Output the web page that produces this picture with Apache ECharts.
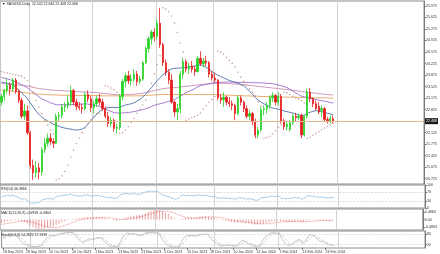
<!DOCTYPE html>
<html><head><meta charset="utf-8">
<script src="https://cdn.jsdelivr.net/npm/echarts@6/dist/echarts.min.js"></script>
<style>html,body{margin:0;padding:0;background:#fff}#c{width:440px;height:254px}</style>
</head><body><div id="c"></div>
<script>
const dates=['18 Sep 2023','19 Sep 2023','20 Sep 2023','21 Sep 2023','22 Sep 2023','25 Sep 2023','26 Sep 2023','27 Sep 2023','28 Sep 2023','29 Sep 2023',
'2 Oct 2023','3 Oct 2023','4 Oct 2023','5 Oct 2023','6 Oct 2023','9 Oct 2023','10 Oct 2023','11 Oct 2023','12 Oct 2023','13 Oct 2023',
'16 Oct 2023','17 Oct 2023','18 Oct 2023','19 Oct 2023','20 Oct 2023','23 Oct 2023','24 Oct 2023','25 Oct 2023','26 Oct 2023','27 Oct 2023',
'30 Oct 2023','31 Oct 2023','1 Nov 2023','2 Nov 2023','3 Nov 2023','6 Nov 2023','7 Nov 2023','8 Nov 2023','9 Nov 2023','10 Nov 2023',
'13 Nov 2023','14 Nov 2023','15 Nov 2023','16 Nov 2023','17 Nov 2023','20 Nov 2023','21 Nov 2023','22 Nov 2023','23 Nov 2023','24 Nov 2023',
'27 Nov 2023','28 Nov 2023','29 Nov 2023','30 Nov 2023','1 Dec 2023','4 Dec 2023','5 Dec 2023','6 Dec 2023','7 Dec 2023','8 Dec 2023',
'11 Dec 2023','12 Dec 2023','13 Dec 2023','14 Dec 2023','15 Dec 2023','18 Dec 2023','19 Dec 2023','20 Dec 2023','21 Dec 2023','22 Dec 2023',
'26 Dec 2023','27 Dec 2023','28 Dec 2023','29 Dec 2023','2 Jan 2024','3 Jan 2024','4 Jan 2024','5 Jan 2024','8 Jan 2024','9 Jan 2024',
'10 Jan 2024','11 Jan 2024','12 Jan 2024','15 Jan 2024','16 Jan 2024','17 Jan 2024','18 Jan 2024','19 Jan 2024','22 Jan 2024','23 Jan 2024',
'24 Jan 2024','25 Jan 2024','26 Jan 2024','29 Jan 2024','30 Jan 2024','31 Jan 2024','1 Feb 2024','2 Feb 2024','5 Feb 2024','6 Feb 2024',
'7 Feb 2024','8 Feb 2024','9 Feb 2024','12 Feb 2024','13 Feb 2024','14 Feb 2024','15 Feb 2024','16 Feb 2024','19 Feb 2024','20 Feb 2024',
'21 Feb 2024','22 Feb 2024','23 Feb 2024','26 Feb 2024','27 Feb 2024','28 Feb 2024'];
const opens=[23.05,23.22,23.40,23.56,23.45,23.72,23.37,23.10,22.62,22.78,
22.12,21.12,20.90,21.05,20.92,21.60,21.80,21.95,21.85,21.80,
22.62,22.65,22.90,22.95,23.05,23.40,23.05,22.92,22.88,22.85,
23.28,23.15,22.88,23.00,23.15,23.05,22.85,22.62,22.40,22.50,
22.25,22.28,23.22,23.68,23.85,23.70,23.75,23.90,23.68,23.75,
24.25,24.68,24.98,25.18,25.05,25.45,24.80,24.25,23.95,23.72,
23.05,22.75,22.85,23.90,24.28,24.05,24.15,24.05,23.98,24.38,
24.22,24.30,24.25,23.90,23.78,23.72,23.18,23.12,23.20,23.05,
23.00,22.95,22.70,23.18,23.05,22.85,22.62,22.70,22.45,22.05,
22.20,22.82,22.85,22.95,23.18,23.25,23.05,23.22,22.48,22.30,
22.22,22.42,22.62,22.58,22.65,22.05,22.62,23.35,23.15,23.00,
22.92,22.80,22.85,22.52,22.48,22.542];
const highs=[23.30,23.45,23.75,23.65,23.78,23.78,23.45,23.18,23.00,22.95,
22.18,21.30,21.25,21.20,21.68,21.95,22.10,22.10,21.95,22.70,
22.75,23.00,23.05,23.25,23.55,23.45,23.15,23.05,23.00,23.35,
23.40,23.25,23.10,23.25,23.30,23.15,22.92,22.75,22.60,22.55,
22.40,23.30,23.75,23.95,24.00,23.90,24.05,24.00,23.85,24.30,
24.75,25.05,25.25,25.30,25.55,25.92,24.85,24.35,24.05,23.90,
23.10,23.00,24.00,24.40,24.35,24.25,24.30,24.15,24.45,24.60,
24.40,24.45,24.30,24.00,23.95,23.75,23.30,23.35,23.25,23.20,
23.10,23.00,23.25,23.25,23.10,22.95,22.80,22.75,22.55,22.30,
22.90,22.95,23.05,23.25,23.35,23.30,23.35,23.30,22.55,22.45,
22.50,22.70,22.72,22.70,22.70,22.65,23.45,23.48,23.20,23.10,
23.05,22.95,22.90,22.60,22.65,22.644];
const lows=[22.95,23.10,23.30,23.25,23.38,23.30,23.02,22.55,22.50,22.05,
21.02,20.68,20.75,20.70,20.82,21.50,21.70,21.75,21.65,21.78,
22.45,22.55,22.75,22.85,22.95,22.95,22.80,22.80,22.70,22.80,
23.05,22.75,22.70,22.90,22.95,22.80,22.55,22.30,22.30,22.15,
22.10,22.20,23.10,23.50,23.60,23.55,23.65,23.55,23.60,23.70,
24.20,24.55,24.80,24.90,24.95,24.70,24.15,23.85,23.60,23.00,
22.60,22.50,22.70,23.75,23.95,23.90,23.95,23.85,23.95,24.15,
24.10,24.15,23.80,23.70,23.65,23.10,23.00,22.90,22.95,22.90,
22.80,22.50,22.65,22.95,22.75,22.55,22.50,22.35,21.95,21.95,
22.15,22.65,22.70,22.85,23.05,22.95,22.95,22.40,22.20,22.18,
22.15,22.35,22.45,22.50,21.95,22.00,22.55,23.05,22.90,22.80,
22.68,22.60,22.45,22.40,22.40,22.408];
const closes=[23.22,23.40,23.56,23.45,23.72,23.37,23.10,22.62,22.78,22.12,
21.12,20.90,21.05,20.92,21.60,21.80,21.95,21.85,21.80,22.62,
22.65,22.90,22.95,23.05,23.40,23.05,22.92,22.88,22.85,23.28,
23.15,22.88,23.00,23.15,23.05,22.85,22.62,22.40,22.50,22.25,
22.28,23.22,23.68,23.85,23.70,23.75,23.90,23.68,23.75,24.25,
24.68,24.98,25.18,25.05,25.45,24.80,24.25,23.95,23.72,23.05,
22.75,22.85,23.90,24.28,24.05,24.15,24.05,23.98,24.38,24.22,
24.30,24.25,23.90,23.78,23.72,23.18,23.12,23.20,23.05,23.00,
22.95,22.70,23.18,23.05,22.85,22.62,22.70,22.45,22.05,22.20,
22.82,22.85,22.95,23.18,23.25,23.05,23.22,22.48,22.30,22.38,
22.42,22.62,22.58,22.62,22.05,22.62,23.35,23.15,23.00,22.85,
22.75,22.85,22.52,22.48,22.55,22.468];
const ma20=[23.66,23.64,23.62,23.60,23.57,23.50,23.42,23.33,23.25,23.16,
23.03,22.90,22.78,22.68,22.59,22.53,22.48,22.43,22.38,22.35,
22.31,22.28,22.26,22.24,22.23,22.21,22.20,22.21,22.23,22.28,
22.38,22.48,22.58,22.68,22.76,22.83,22.87,22.88,22.89,22.89,
22.88,22.90,22.93,22.96,22.98,23.00,23.03,23.08,23.13,23.20,
23.29,23.39,23.49,23.60,23.70,23.80,23.88,23.95,24.01,24.06,
24.08,24.08,24.09,24.10,24.11,24.12,24.13,24.15,24.17,24.19,
24.16,24.11,24.05,23.98,23.92,23.87,23.83,23.79,23.75,23.71,
23.68,23.65,23.62,23.58,23.55,23.47,23.38,23.29,23.19,23.11,
23.05,23.00,22.95,22.91,22.87,22.85,22.83,22.81,22.78,22.76,
22.74,22.72,22.69,22.66,22.64,22.66,22.70,22.74,22.77,22.79,
22.78,22.76,22.74,22.71,22.69,22.67];
const ma50=[23.80,23.78,23.76,23.73,23.70,23.66,23.62,23.58,23.54,23.49,
23.42,23.35,23.28,23.21,23.15,23.11,23.07,23.03,23.00,22.97,
22.97,22.97,22.97,22.97,22.97,22.98,22.98,22.99,22.99,23.00,
22.99,22.97,22.96,22.94,22.92,22.88,22.84,22.80,22.77,22.73,
22.72,22.72,22.72,22.73,22.73,22.75,22.76,22.78,22.80,22.82,
22.85,22.88,22.92,22.95,22.98,23.00,23.02,23.05,23.07,23.09,
23.13,23.18,23.23,23.28,23.34,23.38,23.42,23.46,23.51,23.55,
23.57,23.59,23.61,23.63,23.65,23.65,23.65,23.66,23.66,23.66,
23.66,23.66,23.65,23.65,23.65,23.65,23.65,23.64,23.64,23.64,
23.63,23.63,23.62,23.62,23.61,23.59,23.57,23.55,23.52,23.49,
23.44,23.39,23.33,23.28,23.23,23.21,23.19,23.17,23.15,23.13,
23.11,23.09,23.08,23.06,23.04,23.02];
const ma100=[23.62,23.61,23.60,23.60,23.59,23.58,23.57,23.56,23.55,23.54,
23.52,23.50,23.48,23.46,23.45,23.44,23.43,23.42,23.41,23.41,
23.40,23.40,23.39,23.39,23.38,23.38,23.37,23.37,23.36,23.36,
23.35,23.35,23.34,23.34,23.33,23.32,23.31,23.30,23.29,23.28,
23.27,23.27,23.27,23.28,23.28,23.29,23.29,23.30,23.31,23.32,
23.34,23.36,23.38,23.40,23.42,23.44,23.46,23.47,23.48,23.49,
23.49,23.50,23.51,23.52,23.53,23.54,23.55,23.56,23.57,23.58,
23.59,23.60,23.61,23.61,23.62,23.62,23.62,23.62,23.62,23.61,
23.61,23.60,23.60,23.59,23.58,23.57,23.56,23.55,23.54,23.53,
23.52,23.51,23.50,23.49,23.48,23.47,23.46,23.45,23.44,23.43,
23.42,23.41,23.40,23.39,23.37,23.36,23.35,23.34,23.33,23.32,
23.31,23.30,23.29,23.28,23.27,23.27];
const ma200=[23.42,23.41,23.40,23.39,23.38,23.37,23.36,23.35,23.34,23.33,
23.32,23.31,23.30,23.29,23.29,23.28,23.28,23.27,23.27,23.27,
23.26,23.26,23.26,23.26,23.26,23.25,23.25,23.25,23.25,23.25,
23.25,23.25,23.25,23.25,23.25,23.24,23.24,23.24,23.24,23.24,
23.24,23.24,23.24,23.24,23.24,23.24,23.24,23.24,23.24,23.25,
23.25,23.26,23.26,23.27,23.27,23.28,23.28,23.28,23.28,23.28,
23.28,23.28,23.28,23.28,23.28,23.28,23.28,23.28,23.28,23.28,
23.28,23.28,23.28,23.28,23.28,23.27,23.27,23.27,23.26,23.26,
23.26,23.25,23.25,23.25,23.24,23.24,23.24,23.23,23.23,23.23,
23.22,23.22,23.22,23.22,23.21,23.21,23.21,23.21,23.20,23.20,
23.20,23.20,23.20,23.19,23.19,23.19,23.19,23.19,23.18,23.18,
23.18,23.18,23.18,23.18,23.17,23.17];
const sar=[23.98,23.96,23.94,23.92,23.90,23.88,23.86,23.84,23.78,23.70,
23.55,23.35,23.10,22.90,22.70,22.50,22.35,22.20,22.08,20.68,
20.72,20.81,20.94,21.13,21.37,21.59,21.79,21.96,22.12,22.26,
22.39,22.51,22.62,22.70,22.70,22.79,23.55,23.53,23.48,23.43,
23.35,22.10,22.12,22.19,22.30,22.44,22.56,22.71,22.84,22.96,
23.12,23.35,23.62,23.91,24.19,24.46,25.92,25.88,25.80,25.67,
25.46,25.17,24.85,24.57,22.50,22.54,22.58,22.61,22.65,22.72,
22.83,22.94,23.04,23.13,23.22,24.60,24.57,24.51,24.41,24.32,
24.23,24.12,23.96,23.81,23.68,23.56,23.45,23.36,23.24,23.06,
22.92,21.95,21.97,22.01,22.08,22.18,22.28,22.37,23.35,23.33,
23.28,23.23,23.18,23.14,23.10,23.03,21.95,21.98,22.04,22.10,
22.15,22.21,22.26,22.31,22.36,22.40];
const rsi=[48,52,55,53,57,50,45,38,41,32,
22,20,23,22,35,38,41,40,39,51,
51,55,55,57,61,55,53,52,52,58,
56,52,53,55,53,50,47,44,46,42,
43,56,61,63,61,61,63,59,60,66,
70,72,74,71,74,62,55,51,49,42,
39,41,53,57,54,55,54,53,57,55,
56,55,51,50,49,43,43,44,42,42,
41,38,45,44,41,39,40,37,33,36,
45,46,47,51,52,49,52,42,40,41,
42,45,44,45,38,46,55,52,50,48,
47,48,45,44,45,46.39];
const macdMain=[-0.22,-0.17,-0.11,-0.08,-0.03,-0.03,-0.05,-0.12,-0.15,-0.23,
-0.37,-0.49,-0.56,-0.62,-0.60,-0.56,-0.50,-0.47,-0.44,-0.34,
-0.26,-0.18,-0.11,-0.05,0.02,0.05,0.07,0.08,0.09,0.13,
0.14,0.13,0.13,0.14,0.14,0.12,0.08,0.03,0.00,-0.05,
-0.08,-0.03,0.05,0.12,0.16,0.20,0.24,0.25,0.26,0.32,
0.40,0.48,0.55,0.58,0.62,0.59,0.52,0.43,0.34,0.21,
0.08,0.00,0.02,0.07,0.09,0.12,0.13,0.13,0.16,0.17,
0.19,0.19,0.17,0.14,0.11,0.04,-0.02,-0.05,-0.09,-0.12,
-0.15,-0.19,-0.18,-0.18,-0.19,-0.22,-0.23,-0.26,-0.31,-0.33,
-0.29,-0.26,-0.22,-0.17,-0.12,-0.10,-0.06,-0.09,-0.13,-0.15,
-0.16,-0.15,-0.14,-0.13,-0.17,-0.16,-0.08,-0.04,-0.02,-0.02,
-0.03,-0.03,-0.06,-0.08,-0.09,-0.0958];
const macdSignal=[-0.30,-0.28,-0.25,-0.22,-0.18,-0.15,-0.12,-0.10,-0.10,-0.11,
-0.14,-0.19,-0.25,-0.31,-0.37,-0.42,-0.47,-0.50,-0.52,-0.51,
-0.48,-0.44,-0.38,-0.31,-0.24,-0.17,-0.10,-0.05,0.00,0.04,
0.07,0.09,0.11,0.12,0.13,0.13,0.12,0.11,0.09,0.06,
0.03,0.01,0.00,0.01,0.03,0.05,0.09,0.13,0.16,0.20,
0.25,0.30,0.36,0.42,0.47,0.51,0.53,0.53,0.51,0.47,
0.41,0.34,0.26,0.20,0.14,0.10,0.09,0.09,0.10,0.12,
0.14,0.15,0.16,0.16,0.16,0.15,0.12,0.09,0.05,0.01,
-0.03,-0.07,-0.11,-0.14,-0.16,-0.18,-0.19,-0.21,-0.23,-0.25,
-0.27,-0.27,-0.27,-0.26,-0.24,-0.21,-0.18,-0.16,-0.14,-0.13,
-0.13,-0.13,-0.13,-0.14,-0.14,-0.15,-0.14,-0.13,-0.11,-0.09,
-0.08,-0.07,-0.06,-0.06,-0.07,-0.0804];
const stochK=[60,70,78,75,80,65,45,25,20,12,
8,6,10,12,35,55,72,75,72,80,
85,88,90,92,90,75,55,40,30,45,
55,50,55,62,60,45,25,12,10,8,
10,45,75,88,85,80,82,75,72,85,
90,92,90,88,90,60,35,18,10,6,
5,8,40,65,72,75,72,70,78,80,
82,80,60,40,30,15,12,15,18,15,
12,10,30,45,40,25,20,12,8,12,
40,65,78,88,90,85,85,50,25,15,
18,35,45,50,25,40,70,80,70,55,
40,38,28,20,16,14.28];
const stochD=[55,62,69,74,78,73,62,45,30,19,
13,9,8,9,19,34,54,67,73,76,
79,84,88,90,91,86,73,57,42,38,
43,50,53,56,59,56,43,27,16,10,
9,21,43,69,83,84,82,79,76,77,
82,89,91,90,89,79,62,38,21,11,
7,6,18,38,59,71,73,72,73,76,
80,81,74,60,43,28,19,14,15,16,
15,12,17,28,38,37,28,19,13,11,
20,39,61,77,85,88,87,73,53,30,
19,23,33,43,40,38,45,63,73,68,
55,44,35,29,21,17.33];
const priceTicks=[20.725,21.075,21.425,21.775,22.125,22.825,23.175,23.525,23.875,24.225,24.575,24.925,25.275,25.625,25.975];
const rsiTicks=[0,30,70,100];
const macdTicks=[-0.4863,0,0.4863];
const stochTicks=[0,20,80,100];
const monthStarts=[10,32,54,74,96,117];
const lastPrice=22.468;
const headerText='\u25BC XAGUSD,Daily  22.542 22.644 22.408 22.468';
const rsiText='RSI(14) 46.3866';
const macdText='MACD(12,26,9) -0.0958 -0.0804';
const stochText='Stoch(5,3,3) 14.2822 17.3319';

const FONT='Liberation Sans';
const FUTURE=31;
const cats=dates.concat(new Array(FUTURE).fill(''));
const candles=opens.map((o,i)=>[o,closes[i],lows[i],highs[i]]);
const chart=echarts.init(document.getElementById('c'),null,{renderer:'canvas'});
const gridBase={left:0,right:15,show:true,borderColor:'#8c8c8c',borderWidth:1,backgroundColor:'#fff'};
const labelEvery=(i)=>i%8===0&&i<=112;
function xa(idx,showLabels){
  return {type:'category',gridIndex:idx,data:cats,boundaryGap:true,
    axisLine:{show:false},
    axisTick:{show:showLabels,length:2,alignWithLabel:true,interval:labelEvery,lineStyle:{color:'#777'}},
    axisLabel:{show:showLabels,interval:labelEvery,align:'left',fontSize:3.5,margin:2,color:'#333',fontFamily:FONT},
    splitLine:{show:true,interval:(i)=>monthStarts.indexOf(i)>=0,lineStyle:{color:'#d2d2d2',width:1}}};
}
function ya(idx,min,max,ticks,fmt){
  return {type:'value',gridIndex:idx,position:'right',min:min,max:max,
    splitLine:{show:false},
    axisLine:{show:true,lineStyle:{color:'#7a7a7a'}},
    axisTick:{show:true,length:2,customValues:ticks,lineStyle:{color:'#7a7a7a'}},
    axisLabel:{show:true,customValues:ticks,formatter:fmt,fontSize:3.6,margin:2,color:'#333',fontFamily:FONT}};
}
const titleStyle={fontSize:3.5,fontWeight:'normal',color:'#222',fontFamily:FONT};
chart.setOption({
  animation:false,
  backgroundColor:'#fff',
  title:[
    {text:headerText,left:2,top:2,textStyle:titleStyle,padding:0},
    {text:rsiText,left:1,top:187,textStyle:titleStyle,padding:0},
    {text:macdText,left:1,top:211,textStyle:titleStyle,padding:0},
    {text:stochText,left:1,top:233,textStyle:titleStyle,padding:0}
  ],
  grid:[
    Object.assign({top:1,height:183},gridBase),
    Object.assign({top:185,height:23},gridBase),
    Object.assign({top:209,height:21},gridBase),
    Object.assign({top:231,height:17},gridBase)
  ],
  xAxis:[xa(0,false),xa(1,false),xa(2,false),xa(3,true)],
  yAxis:[
    ya(0,20.558,26.127,priceTicks,v=>v.toFixed(3)),
    ya(1,0,100,rsiTicks,v=>String(v)),
    ya(2,-0.66,0.66,macdTicks,v=>v===0?'0.00':v.toFixed(4)),
    ya(3,0,100,stochTicks,v=>String(v))
  ],
  series:[
    {type:'line',name:'MA200',xAxisIndex:0,yAxisIndex:0,data:ma200,symbol:'none',lineStyle:{color:'#e6a35c',width:0.9},z:1},
    {type:'line',name:'MA100',xAxisIndex:0,yAxisIndex:0,data:ma100,symbol:'none',lineStyle:{color:'#c98bb5',width:0.9},z:1},
    {type:'line',name:'MA50',xAxisIndex:0,yAxisIndex:0,data:ma50,symbol:'none',lineStyle:{color:'#9a6ccc',width:0.9},z:1},
    {type:'line',name:'MA20',xAxisIndex:0,yAxisIndex:0,data:ma20,symbol:'none',lineStyle:{color:'#4d6fa8',width:0.9},z:1},
    {type:'scatter',name:'SAR',xAxisIndex:0,yAxisIndex:0,data:sar,symbolSize:1.6,itemStyle:{color:'#bf8a8a'},z:2},
    {type:'candlestick',name:'XAGUSD',xAxisIndex:0,yAxisIndex:0,data:candles,barWidth:1.8,
      itemStyle:{color:'#28d228',color0:'#e41e1e',borderColor:'#28d228',borderColor0:'#e41e1e',borderWidth:0.8},z:3,
      markLine:{silent:true,symbol:'none',animation:false,
        data:[{yAxis:lastPrice}],
        lineStyle:{color:'#e2b98c',width:1,type:'solid'},
        label:{show:true,position:'end',formatter:lastPrice.toFixed(3),backgroundColor:'#1a1a1a',color:'#fff',fontSize:3.6,padding:[1,1],distance:1,fontFamily:FONT}}},
    {type:'line',name:'RSI',xAxisIndex:1,yAxisIndex:1,data:rsi,symbol:'none',lineStyle:{color:'#8ec0e4',width:0.8},
      markLine:{silent:true,symbol:'none',label:{show:false},data:[{yAxis:70},{yAxis:30}],lineStyle:{color:'#c8c8c8',width:0.6,type:'dashed'}}},
    {type:'bar',name:'MACD',xAxisIndex:2,yAxisIndex:2,data:macdMain,barWidth:0.5,itemStyle:{color:'#ea9c9c'}},
    {type:'line',name:'Signal',xAxisIndex:2,yAxisIndex:2,data:macdSignal,symbol:'none',lineStyle:{color:'#e05a5a',width:0.7,type:'dotted'}},
    {type:'line',name:'%K',xAxisIndex:3,yAxisIndex:3,data:stochK,symbol:'none',lineStyle:{color:'#b8b8b8',width:0.8},
      markLine:{silent:true,symbol:'none',label:{show:false},data:[{yAxis:80},{yAxis:20}],lineStyle:{color:'#cccccc',width:0.6,type:'dashed'}}},
    {type:'line',name:'%D',xAxisIndex:3,yAxisIndex:3,data:stochD,symbol:'none',lineStyle:{color:'#c8c8c8',width:0.8,type:'dashed'}}
  ]
});
</script>
</body></html>
